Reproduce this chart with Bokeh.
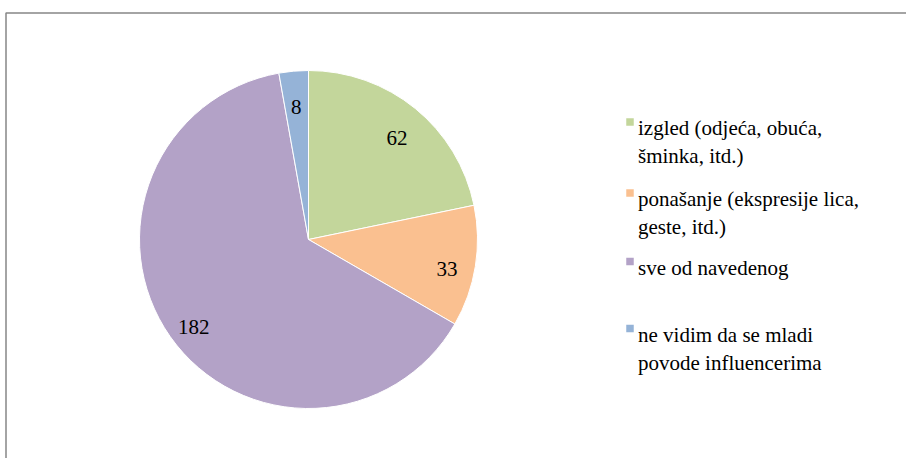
import math
from bokeh.plotting import figure
from bokeh.models import Range1d, ColumnDataSource
from bokeh.core.properties import value
from bokeh.embed import file_html
from bokeh.resources import INLINE

# ---- data ----
categories = [
    "izgled (odjeća, obuća,\nšminka, itd.)",
    "ponašanje (ekspresije lica,\ngeste, itd.)",
    "sve od navedenog",
    "ne vidim da se mladi\npovode influencerima",
]
counts = [62, 33, 182, 8]
colors = ["#C3D69B", "#FAC090", "#B3A2C7", "#95B3D7"]

# ---- layout (page pixel coordinates) ----
W, H = 906, 458
def Y(py):  # page y -> data y
    return H - py

FS = "21px"
cx, cy, r = 308, Y(239), 169
total = sum(counts)
starts, ends, lx, ly = [], [], [], []
acc = 0.0
for c in counts:
    a0 = math.pi / 2 - 2 * math.pi * acc / total
    acc += c
    a1 = math.pi / 2 - 2 * math.pi * acc / total
    starts.append(a0)
    ends.append(a1)
    mid = (a0 + a1) / 2
    lx.append(cx + 0.83 * r * math.cos(mid))
    ly.append(cy + 0.83 * r * math.sin(mid) - 7)  # alphabetic baseline

src = ColumnDataSource(dict(start=starts, end=ends, color=colors))

p = figure(width=W, height=H, output_backend="svg", toolbar_location=None,
           x_range=Range1d(0, W), y_range=Range1d(0, H), min_border=0,
           outline_line_color=None)
p.axis.visible = False
p.grid.visible = False

# frame
p.line(x=[5.5, 5.5, W], y=[0, Y(12.5), Y(12.5)], line_color="#868686", line_width=1.5)

p.wedge(x=cx, y=cy, radius=r, start_angle="start", end_angle="end",
        direction="clock", fill_color="color", line_color="white",
        line_width=1, source=src)

for x, y, c in zip(lx, ly, counts):
    p.text(x=[x], y=[y], text=[str(c)], text_align="center",
           text_baseline="alphabetic", text_font=value("Liberation Serif"),
           text_font_size=FS, text_color="black")

# legend
base_y = [127.5, 198.5, 267, 334]
line_gap = 28
sq_x, tx = 629.5, 637.5
for cat, col, by in zip(categories, colors, base_y):
    p.rect(x=sq_x, y=Y(by - 6), width=7.5, height=7.5, fill_color=col, line_color=None)
    for k, line in enumerate(cat.split("\n")):
        p.text(x=[tx], y=[Y(by + k * line_gap)], text=[line], text_align="left",
               text_baseline="alphabetic", text_font=value("Liberation Serif"),
               text_font_size=FS, text_color="black")

open("out.html", "w").write(file_html(p, INLINE))
